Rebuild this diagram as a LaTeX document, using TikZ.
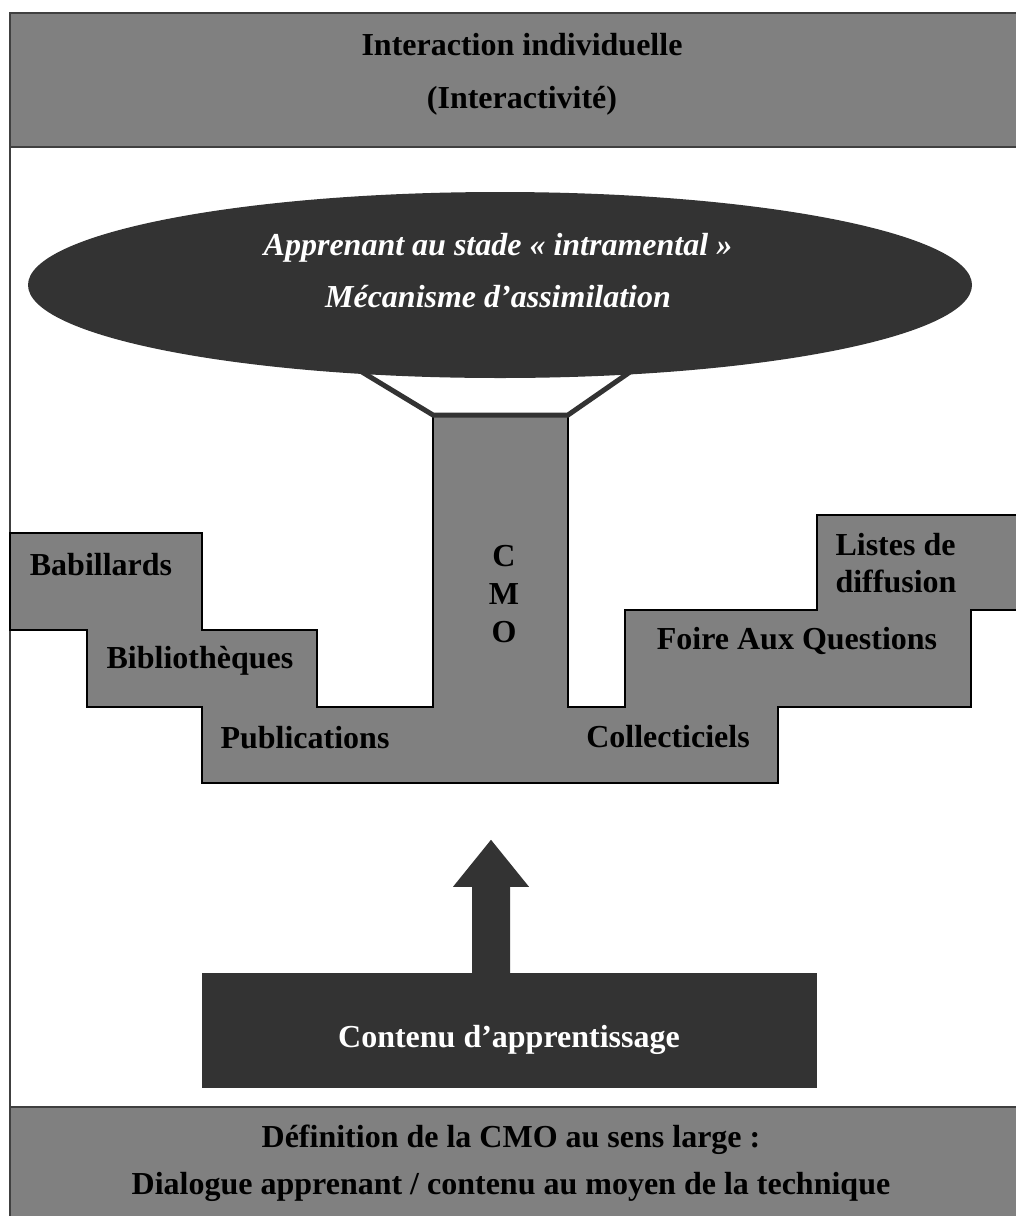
\documentclass[tikz,border=0pt]{standalone}
\usepackage{fontspec}
\setmainfont{Liberation Serif}
\usetikzlibrary{shapes.geometric}
\definecolor{midgray}{HTML}{808080}
\definecolor{darkfill}{HTML}{333333}
\definecolor{bandline}{HTML}{404040}
\begin{document}
\begin{tikzpicture}[x=1pt,y=-1pt,
  every node/.style={inner sep=0pt,font=\fontsize{32}{38}\selectfont\bfseries},
  band/.style={fill=midgray,draw=bandline,line width=2.2pt},
  stairs/.style={fill=midgray,draw=black,line width=2pt,line join=miter},
  label/.style={text=black,align=center},
  whitelabel/.style={text=white,align=center},
  funnel/.style={draw=darkfill,line width=5pt,line join=miter}]
\useasboundingbox (0,0) rectangle (1016,1216);
\begin{scope}
\clip (0,0) rectangle (1016,1216);
% outer frame with the two grey bands
\draw[bandline,line width=1.6pt] (10,147) -- (10,1107);
\draw[band] (10,13) rectangle (1040,147);
\draw[band] (10,1107) rectangle (1040,1240);
\node[label] (top1) at (522,45) {Interaction individuelle};
\node[label] (top2) at (522,101) {(Interactivité)};
\node[label] (bot1) at (511,1140) {Définition de la CMO au sens large :};
\node[label] (bot2) at (511,1187) {Dialogue apprenant / contenu au moyen de la technique};

% staircase with the central CMO column
\coordinate (cmoTL) at (433,415);
\coordinate (cmoTR) at (568,415);
\draw[stairs] (cmoTL) -- (cmoTR) -- (568,707) -- (625,707) -- (625,610)
  -- (817,610) -- (817,515) -- (1040,515) -- (1040,610) -- (971,610)
  -- (971,707) -- (778,707) -- (778,783) -- (202,783) -- (202,707)
  -- (87,707) -- (87,630) -- (10,630) -- (10,533) -- (202,533)
  -- (202,630) -- (317,630) -- (317,707) -- (433,707) -- cycle;

% funnel joining the column to the ellipse
\coordinate (fl) at (362,372);
\coordinate (fr) at (630,372);
\draw[funnel] (fl) -- (cmoTL) -- (cmoTR) -- (fr);
\node[ellipse,fill=darkfill,minimum width=944pt,minimum height=186pt] (learner) at (500,285) {};
\node[whitelabel,font=\fontsize{32}{52}\selectfont\bfseries\itshape] (learnertxt) at (498,271)
  {Apprenant au stade « intramental »\\Mécanisme d’assimilation};

% stair labels
\node[label] (bab) at (101,565) {Babillards};
\node[label] (bib) at (200,661) {Bibliothèques};
\node[label] (pub) at (305,738) {Publications};
\node[label] (cmo) at (504,594) {C\\M\\O};
\node[label] (col) at (668,737) {Collecticiels};
\node[label] (faq) at (797,641) {Foire Aux Questions};
\node[label,align=left,font=\fontsize{32}{37}\selectfont\bfseries] (lst) at (896,563) {Listes de\\diffusion};

% learning content box and its upward block arrow
\node[fill=darkfill,minimum width=615pt,minimum height=115pt] (content) at (509.5,1030.5) {};
\node[whitelabel] (contenttxt) at (509,1040) {Contenu d’apprentissage};
\coordinate (arrowbase) at ([xshift=-18.5pt]content.north);
\fill[darkfill] ([xshift=-19pt]arrowbase) -- ++(0,-86) -- ++(-19,0)
  -- ([yshift=133pt]arrowbase) -- ([xshift=38pt,yshift=86pt]arrowbase)
  -- ([xshift=19pt,yshift=86pt]arrowbase) -- ([xshift=19pt]arrowbase) -- cycle;
\end{scope}
\end{tikzpicture}
\end{document}
